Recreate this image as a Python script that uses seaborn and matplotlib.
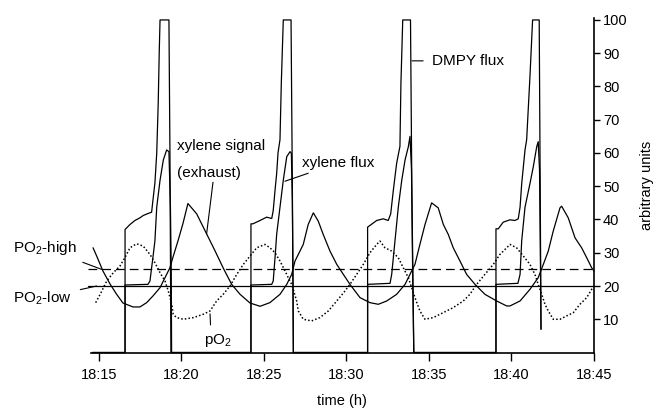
import matplotlib
matplotlib.use("Agg")
import matplotlib.pyplot as plt
import seaborn as sns

# time in minutes after 18:00, values in arbitrary units
dmpy_t = [14.6, 16.58, 16.58, 16.68, 16.88, 17.18, 17.48, 17.68, 17.97, 18.19, 18.27, 18.39, 18.50, 18.59, 18.65, 18.70, 19.24, 19.30, 19.36,
          24.21, 24.21, 24.33, 24.76, 25.16, 25.47, 25.56, 25.67, 25.77, 25.85, 25.97, 26.05, 26.17, 26.64, 26.72, 26.78,
          31.28, 31.28, 31.42, 31.83, 32.23, 32.53, 32.68, 32.84, 33.04, 33.24, 33.30, 33.41, 33.88, 33.96, 34.08,
          39.06, 39.06, 39.20, 39.50, 39.91, 40.21, 40.41, 40.52, 40.62, 40.82, 40.92, 41.12, 41.28, 41.68, 41.74, 41.79]
dmpy_v = [0, 0, 37.0, 37.5, 38.5, 39.7, 40.5, 41.2, 41.8, 42.2, 45.8, 51.0, 60.0, 75.0, 90.0, 100, 100, 60, 0,
          0, 38.7, 38.7, 39.7, 40.7, 40.3, 42.7, 48.8, 53.9, 60.0, 64.0, 81.0, 100, 100, 50, 0,
          0, 37.7, 38.2, 39.7, 40.2, 39.7, 41.7, 48.8, 56.9, 62.0, 81.0, 100, 100, 50, 0,
          0, 37.2, 37.2, 39.2, 39.9, 39.7, 40.2, 43.7, 50.8, 60.9, 64.0, 83.0, 100, 100, 50, 7]

xflux_t = [14.6, 16.58, 16.58, 17.97, 18.09, 18.19, 18.27, 18.39, 18.50, 18.70, 18.90, 19.10, 19.24, 19.33, 19.38, 19.40,
           24.21, 24.21, 25.47, 25.56, 25.67, 25.77, 25.97, 26.17, 26.38, 26.58, 26.66, 26.72, 26.76, 26.78,
           31.28, 31.28, 32.64, 32.74, 32.94, 33.14, 33.35, 33.55, 33.75, 33.85, 33.94, 34.02, 34.08,
           39.06, 39.06, 40.39, 40.52, 40.62, 40.82, 41.12, 41.32, 41.53, 41.62, 41.70, 41.75, 41.79]
xflux_v = [0, 0, 20.3, 20.5, 21.5, 25.5, 28.6, 33.6, 43.7, 51.8, 57.9, 60.9, 60.4, 43.7, 23.6, 0,
           0, 20.3, 20.5, 21.5, 28.6, 35.6, 43.7, 51.8, 58.9, 60.4, 59.9, 45.0, 20.5, 0,
           0, 20.5, 20.8, 23.5, 33.6, 43.7, 51.8, 57.9, 61.9, 65.0, 55.0, 20.0, 0,
           0, 20.5, 20.8, 23.5, 33.6, 43.7, 50.8, 55.8, 61.9, 63.4, 55.0, 30.0, 7]

xsig_t = [14.64, 14.86, 15.24, 15.67, 16.07, 16.45, 17.06, 17.48, 17.89, 18.27, 18.70, 19.00, 19.30, 19.48, 19.79, 20.09, 20.39,
          20.92, 21.53, 22.03, 22.52, 23.04, 23.55, 24.15, 24.76, 25.36, 25.97, 26.38, 26.68, 26.88, 27.08, 27.38, 27.68, 27.99,
          28.29, 28.59, 29.00, 29.41, 29.81, 30.21, 30.82, 31.42, 31.93, 32.44, 33.04, 33.55, 33.85, 34.15, 34.45, 34.76, 35.16,
          35.56, 35.87, 36.17, 36.47, 36.88, 37.28, 37.79, 38.39, 39.10, 39.71, 39.91, 40.52, 41.12, 41.62, 41.93, 42.23, 42.53,
          42.94, 43.04, 43.44, 43.85, 44.25, 44.56, 44.86, 45.0]
xsig_v = [31.5, 29.0, 24.5, 20.6, 17.5, 14.9, 13.7, 13.7, 15.0, 17.0, 19.5, 22.5, 25.5, 28.6, 33.6, 38.8, 44.8,
          41.7, 35.6, 30.6, 25.5, 20.5, 17.5, 14.9, 13.9, 15.0, 17.5, 20.5, 23.5, 27.5, 29.5, 32.5, 38.5, 42.0,
          39.5, 35.5, 30.5, 26.5, 23.5, 20.5, 16.5, 15.0, 14.5, 15.5, 17.5, 20.5, 23.5, 26.5, 32.5, 38.5, 45.0,
          43.5, 38.5, 35.5, 31.5, 27.5, 23.5, 20.5, 17.5, 15.5, 14.0, 14.0, 15.5, 19.0, 22.5, 26.5, 30.5, 36.5,
          43.5, 44.0, 40.5, 34.5, 31.5, 28.5, 25.5, 24.5]

po2_t = [14.8, 15.06, 15.47, 15.87, 16.27, 16.58, 16.88, 17.28, 17.68, 18.09, 18.39, 18.70, 19.00, 19.20, 19.41, 19.50, 19.70,
         20.11, 20.72, 21.32, 21.73, 22.13, 22.53, 22.94, 23.35, 23.75, 24.15, 24.56, 25.06, 25.36, 25.67, 25.97, 26.28, 26.47,
         26.68, 26.98, 27.08, 27.38, 27.89, 28.39, 28.90, 29.41, 29.91, 30.21, 30.62, 31.02, 31.42, 31.83, 32.03, 32.33, 32.74,
         33.14, 33.44, 33.75, 33.95, 34.15, 34.45, 34.76, 35.26, 35.87, 36.47, 37.08, 37.48, 37.89, 38.39, 38.90, 39.30, 39.71,
         39.91, 40.31, 40.72, 41.12, 41.42, 41.62, 41.83, 42.03, 42.23, 42.53, 42.94, 43.34, 43.75, 44.15, 44.56, 44.86, 45.0]
po2_v = [15.0, 17.4, 21.5, 24.0, 26.0, 28.6, 31.5, 32.7, 32.0, 29.5, 27.0, 24.0, 21.5, 18.5, 14.5, 11.5, 10.5,
         10.0, 10.5, 11.5, 12.5, 15.5, 17.5, 20.0, 23.5, 26.5, 29.0, 31.5, 32.5, 31.5, 30.0, 27.5, 24.5, 22.5,
         20.5, 15.5, 12.5, 10.0, 9.5, 10.5, 12.5, 15.5, 18.5, 20.5, 23.5, 26.5, 30.0, 32.5, 33.5, 31.5, 30.5,
         28.5, 25.5, 22.5, 19.5, 16.5, 12.5, 10.0, 10.5, 12.0, 13.5, 15.5, 17.5, 20.5, 23.5, 26.5, 29.5, 31.5,
         32.5, 31.5, 29.0, 26.5, 23.5, 20.5, 17.5, 14.5, 12.5, 10.0, 10.0, 11.0, 12.0, 14.5, 16.5, 19.0, 20.0]

po2_high = 25.2
po2_low = 20.0
line_t = [14.33, 45.0]

x_ticks = [15, 20, 25, 30, 35, 40, 45]
x_labels = ["18:15", "18:20", "18:25", "18:30", "18:35", "18:40", "18:45"]
y_ticks = [10, 20, 30, 40, 50, 60, 70, 80, 90, 100]

sns.set_style("ticks")
plt.rcParams['font.family'] = ['Liberation Sans', 'DejaVu Sans']
plt.rcParams['mathtext.fontset'] = 'custom'
plt.rcParams['mathtext.rm'] = 'Liberation Sans'
plt.rcParams['text.color'] = 'black'
plt.rcParams['axes.labelcolor'] = 'black'

fig = plt.figure(figsize=(6.58, 4.09), dpi=100)
ax = fig.add_axes([0.1379, 0.1381, 0.7648, 0.8172])

def trace(t, v, **kw):
    sns.lineplot(x=t, y=v, ax=ax, estimator=None, sort=False, color="black", clip_on=False, **kw)

trace(dmpy_t, dmpy_v, linewidth=0.9)
trace(xflux_t, xflux_v, linewidth=0.9)
trace(xsig_t, xsig_v, linewidth=0.9)
trace(po2_t, po2_v, linewidth=1.1, linestyle=(0, (1, 1.4)))
trace(line_t, [po2_high, po2_high], linewidth=0.9, linestyle=(0, (7, 4)))
trace(line_t, [po2_low, po2_low], linewidth=0.9)

ax.set_xlim(14.5, 45)
ax.set_ylim(0, 100.5)
ax.set_xticks(x_ticks)
ax.set_xticklabels(x_labels)
ax.set_yticks(y_ticks)
ax.yaxis.tick_right()
ax.yaxis.set_label_position("right")
ax.spines["left"].set_visible(False)
ax.spines["top"].set_visible(False)
for s in ["bottom", "right"]:
    ax.spines[s].set_linewidth(1.2)
    ax.spines[s].set_color("black")
ax.tick_params(axis="x", direction="out", length=5.5, width=1, labelsize=10.5, colors="black", pad=6)
ax.tick_params(axis="y", direction="out", length=4.5, width=1, labelsize=10.5, colors="black", pad=2)
ax.set_xlabel("time (h)", fontsize=10.5, labelpad=8)
ax.set_ylabel("arbitrary units", fontsize=10.5, labelpad=9)

fs = 11
arrow = dict(arrowstyle="-", color="black", linewidth=0.8, shrinkA=0, shrinkB=0)
ax.text(19.73, 62.1, "xylene signal", fontsize=fs, va="center", ha="left")
ax.text(19.73, 54.1, "(exhaust)", fontsize=fs, va="center", ha="left")
ax.annotate("", xy=(21.52, 35.6), xytext=(21.91, 51.2), arrowprops=arrow)
ax.annotate("xylene flux", xy=(26.27, 51.5), xytext=(27.3, 57.0), fontsize=fs, va="center", ha="left", arrowprops=arrow)
ax.annotate("DMPY flux", xy=(33.97, 87.7), xytext=(35.18, 87.7), fontsize=fs, va="center", ha="left",
            arrowprops=dict(arrowstyle="-", color="black", linewidth=0.8, shrinkA=4, shrinkB=0))
ax.text(22.21, 3.5, r"pO$_\mathregular{2}$", fontsize=fs, va="center", ha="center")
ax.annotate("", xy=(21.73, 11.6), xytext=(21.76, 8.3), arrowprops=arrow)
ax.annotate(r"PO$_\mathregular{2}$-high", xy=(15.16, 25.0), xytext=(9.79, 31.4), fontsize=fs, va="center", ha="left",
            arrowprops=dict(arrowstyle="-", color="black", linewidth=0.8, shrinkA=4, shrinkB=0), annotation_clip=False)
ax.annotate(r"PO$_\mathregular{2}$-low", xy=(14.86, 20.0), xytext=(9.79, 16.4), fontsize=fs, va="center", ha="left",
            arrowprops=dict(arrowstyle="-", color="black", linewidth=0.8, shrinkA=4, shrinkB=0), annotation_clip=False)

fig.savefig("out.png", dpi=100)
